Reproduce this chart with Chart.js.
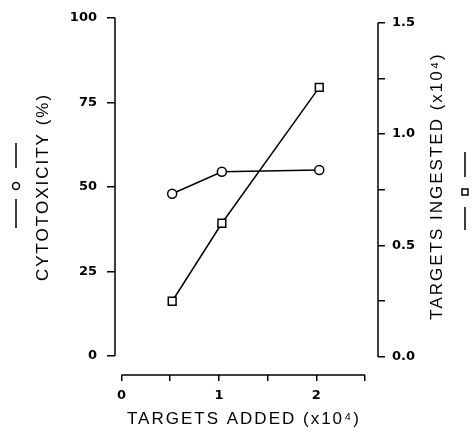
<!DOCTYPE html>
<html>
<head>
<meta charset="utf-8">
<script src="https://cdn.jsdelivr.net/npm/chart.js@4.4.0/dist/chart.umd.min.js"></script>
<style>
  html, body { margin: 0; padding: 0; background: #fff; }
  canvas { display: block; }
</style>
</head>
<body>
<canvas id="chart" width="474" height="432"></canvas>
<script>
// ---------------- data ----------------
const targetsAdded = [0.52, 1.03, 2.03];      // x10^4
const cytotoxicity = [48, 54.5, 55];          // %, circles, left axis
const targetsIngested = [0.25, 0.6, 1.21];    // x10^4, squares, right axis

const xTicks = [0, 0.5, 1, 1.5, 2, 2.5];
const xTickLabels = ["0", "", "1", "", "2", ""];
const leftTicks = [0, 25, 50, 75, 100];
const leftTickLabels = ["0", "25", "50", "75", "100"];
const rightTicks = [0, 0.25, 0.5, 0.75, 1, 1.25, 1.5];
const rightTickLabels = ["0.0", "", "0.5", "", "1.0", "", "1.5"];

const xTitle = "TARGETS ADDED (x10⁴)";
const leftTitle = "CYTOTOXICITY (%)";
const rightTitle = "TARGETS INGESTED (x10⁴)";

// ---------------- helpers ----------------
const tickFont = { family: "DejaVu Sans", size: 13, weight: "bold" };
const titleFont = "17px 'Liberation Sans'";

function fixedTicks(values) {
  return scale => { scale.ticks = values.map(v => ({ value: v })); };
}

// axis lines, titles and the little line/marker keys next to the titles
const paperAxes = {
  id: "paperAxes",
  afterDraw(chart) {
    const ctx = chart.ctx;
    const a = chart.chartArea;
    const x = chart.scales.x, y = chart.scales.y, y1 = chart.scales.y1;
    ctx.save();
    ctx.strokeStyle = "#000";
    ctx.lineWidth = 1.5;

    ctx.beginPath();
    ctx.moveTo(a.left, y.getPixelForValue(leftTicks[0]));
    ctx.lineTo(a.left, y.getPixelForValue(leftTicks[leftTicks.length - 1]));
    ctx.moveTo(a.right, y1.getPixelForValue(rightTicks[0]));
    ctx.lineTo(a.right, y1.getPixelForValue(rightTicks[rightTicks.length - 1]));
    ctx.moveTo(x.getPixelForValue(xTicks[0]), a.bottom);
    ctx.lineTo(x.getPixelForValue(xTicks[xTicks.length - 1]), a.bottom);
    ctx.stroke();

    // titles
    ctx.fillStyle = "#000";
    ctx.font = titleFont;
    ctx.letterSpacing = "2px";
    ctx.textAlign = "center";
    ctx.textBaseline = "alphabetic";
    ctx.fillText(xTitle, 244, 424);

    ctx.save();
    ctx.translate(48, 187);
    ctx.rotate(-Math.PI / 2);
    ctx.fillText(leftTitle, 0, 0);
    ctx.restore();

    ctx.save();
    ctx.translate(441.5, 186);
    ctx.rotate(-Math.PI / 2);
    ctx.fillText(rightTitle, 0, 0);
    ctx.restore();

    // keys: — o —  and  — □ —
    ctx.lineWidth = 1.5;
    ctx.beginPath();
    ctx.moveTo(16, 143); ctx.lineTo(16, 168);
    ctx.moveTo(16, 199); ctx.lineTo(16, 228);
    ctx.moveTo(465, 152); ctx.lineTo(465, 177);
    ctx.moveTo(465, 207); ctx.lineTo(465, 230);
    ctx.stroke();
    ctx.beginPath();
    ctx.arc(16, 186, 3.5, 0, Math.PI * 2);
    ctx.stroke();
    ctx.strokeRect(462, 189, 6, 6);
    ctx.restore();
  }
};

new Chart(document.getElementById("chart"), {
  type: "line",
  data: {
    datasets: [
      {
        label: "Cytotoxicity",
        data: targetsAdded.map((t, i) => ({ x: t, y: cytotoxicity[i] })),
        yAxisID: "y",
        borderColor: "#000",
        borderWidth: 1.5,
        pointStyle: "circle",
        pointRadius: 4.5,
        pointBorderWidth: 1.5,
        pointBackgroundColor: "#fff",
        pointBorderColor: "#000"
      },
      {
        label: "Targets ingested",
        data: targetsAdded.map((t, i) => ({ x: t, y: targetsIngested[i] })),
        yAxisID: "y1",
        borderColor: "#000",
        borderWidth: 1.5,
        pointStyle: "rect",
        pointRadius: 5.5,
        pointBorderWidth: 1.5,
        pointBackgroundColor: "#fff",
        pointBorderColor: "#000"
      }
    ]
  },
  options: {
    responsive: false,
    animation: false,
    events: [],
    layout: { padding: { top: 17, left: 0, right: 0, bottom: 0 } },
    plugins: { legend: { display: false }, tooltip: { enabled: false } },
    scales: {
      x: {
        type: "linear",
        min: -0.067,
        max: 2.633,
        afterBuildTicks: fixedTicks(xTicks),
        afterFit: s => { s.height = 57; },
        border: { display: false },
        grid: { drawOnChartArea: false, drawTicks: true, tickLength: 6, color: "#000", lineWidth: 1.5 },
        ticks: { autoSkip: false, maxRotation: 0, padding: 7, color: "#000", font: tickFont,
                 callback: (v, i) => xTickLabels[i] }
      },
      y: {
        position: "left",
        min: -5.6,
        max: 100,
        afterBuildTicks: fixedTicks(leftTicks),
        afterFit: s => { s.width = 115; },
        border: { display: false },
        grid: { drawOnChartArea: false, drawTicks: true, tickLength: 8, color: "#000", lineWidth: 1.5 },
        ticks: { autoSkip: false, padding: 10, color: "#000", font: tickFont,
                 callback: (v, i) => leftTickLabels[i] }
      },
      y1: {
        position: "right",
        min: -0.081,
        max: 1.522,
        afterBuildTicks: fixedTicks(rightTicks),
        afterFit: s => { s.width = 96; },
        border: { display: false },
        grid: { drawOnChartArea: false, drawTicks: true, tickLength: 7, color: "#000", lineWidth: 1.5 },
        ticks: { autoSkip: false, padding: 7, color: "#000", font: tickFont,
                 callback: (v, i) => rightTickLabels[i] }
      }
    }
  },
  plugins: [paperAxes]
});
</script>
</body>
</html>
